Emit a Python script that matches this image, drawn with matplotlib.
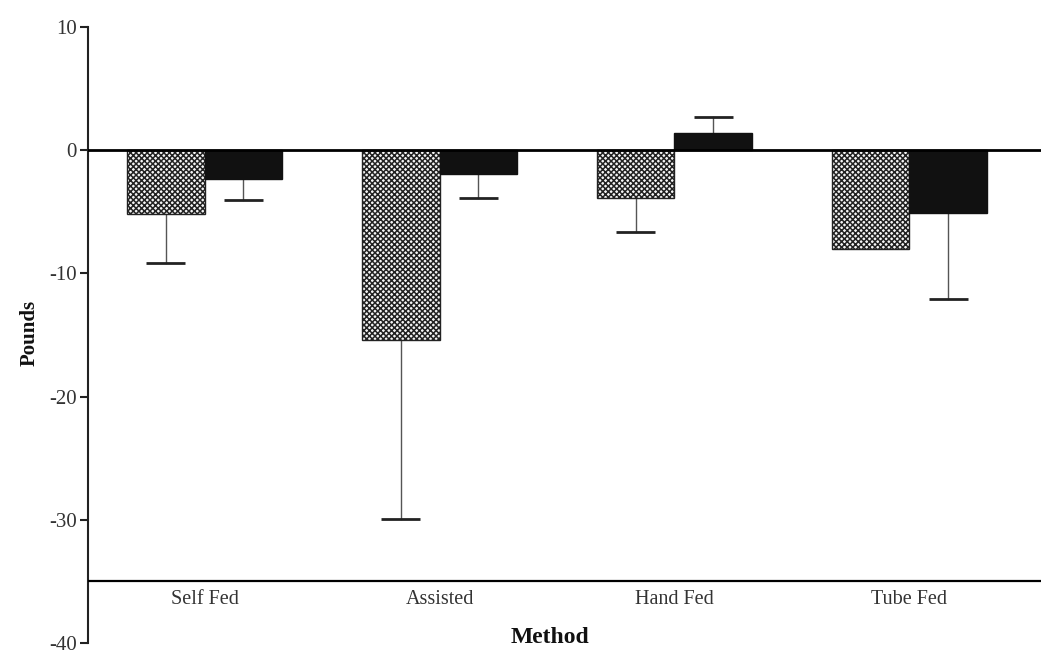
import matplotlib
matplotlib.use("Agg")
import matplotlib.pyplot as plt
import numpy as np

categories = ["Self Fed", "Assisted", "Hand Fed", "Tube Fed"]
series_a = [-5.2, -15.4, -3.9, -8.0]      # hatched bars
series_a_err = [-9.15, -29.9, -6.6, -8.0]  # error bar end (away from zero)
series_b = [-2.3, -1.9, 1.4, -5.1]         # black bars
series_b_err = [-4.05, -3.9, 2.7, -12.1]
yticks = [10, 0, -10, -20, -30, -40]

plt.rcParams['font.family'] = ['Liberation Serif', 'DejaVu Serif']
plt.rcParams['hatch.linewidth'] = 1.1
plt.rcParams['hatch.color'] = 'black'

fig = plt.figure(figsize=(10.41, 6.53), dpi=100)
ax = fig.add_axes([88/1041, 10/653, 1 - 88/1041, (643-27)/653])

x = np.arange(len(categories))
w = 0.33
txt = '#333333'

# hatched bars
ax.bar(x - w/2, series_a, width=w, color='#f4f4f4', edgecolor='#222222',
       hatch='xxxxxx', linewidth=1.0, zorder=2)
# black bars
ax.bar(x + w/2, series_b, width=w, color='#111111', edgecolor='#111111',
       linewidth=1.0, zorder=2)

def err(xs, vals, ends):
    for xi, v, e in zip(xs, vals, ends):
        if abs(e - v) < 1e-9:
            continue
        ax.plot([xi, xi], [v, e], color='#555555', lw=1.0, zorder=1)
        ax.plot([xi - w*0.25, xi + w*0.25], [e, e], color='#222222', lw=2.0, zorder=1,
                solid_capstyle='butt')

err(x - w/2, series_a, series_a_err)
err(x + w/2, series_b, series_b_err)

ax.axhline(0, color='black', lw=2.0, zorder=3)
ax.axhline(-35, color='black', lw=1.6, zorder=3)

ax.set_xlim(-0.496, 3.56)
ax.set_ylim(-40, 10)
ax.set_yticks(yticks)
ax.set_yticklabels([str(t) for t in yticks], fontsize=15, color=txt)
ax.tick_params(axis='y', direction='out', length=6, width=1.5, pad=2, color='#222222')
ax.set_xticks([])
for s in ['top', 'right', 'bottom']:
    ax.spines[s].set_visible(False)
ax.spines['left'].set_linewidth(1.5)
ax.spines['left'].set_color('#222222')

for xi, c in zip(x, categories):
    ax.text(xi, -35.7, c, ha='center', va='top', fontsize=14.5, color=txt)

ax.text(0.485, -0.008, 'Method', transform=ax.transAxes, ha='center', va='bottom',
        fontsize=17, fontweight='bold', color='#111111')
fig.text(30/1041, 1 - 333/653, 'Pounds', rotation=90, ha='center', va='center',
         fontsize=15, fontweight='bold', color='#111111')

fig.savefig('out.png', dpi=100)
